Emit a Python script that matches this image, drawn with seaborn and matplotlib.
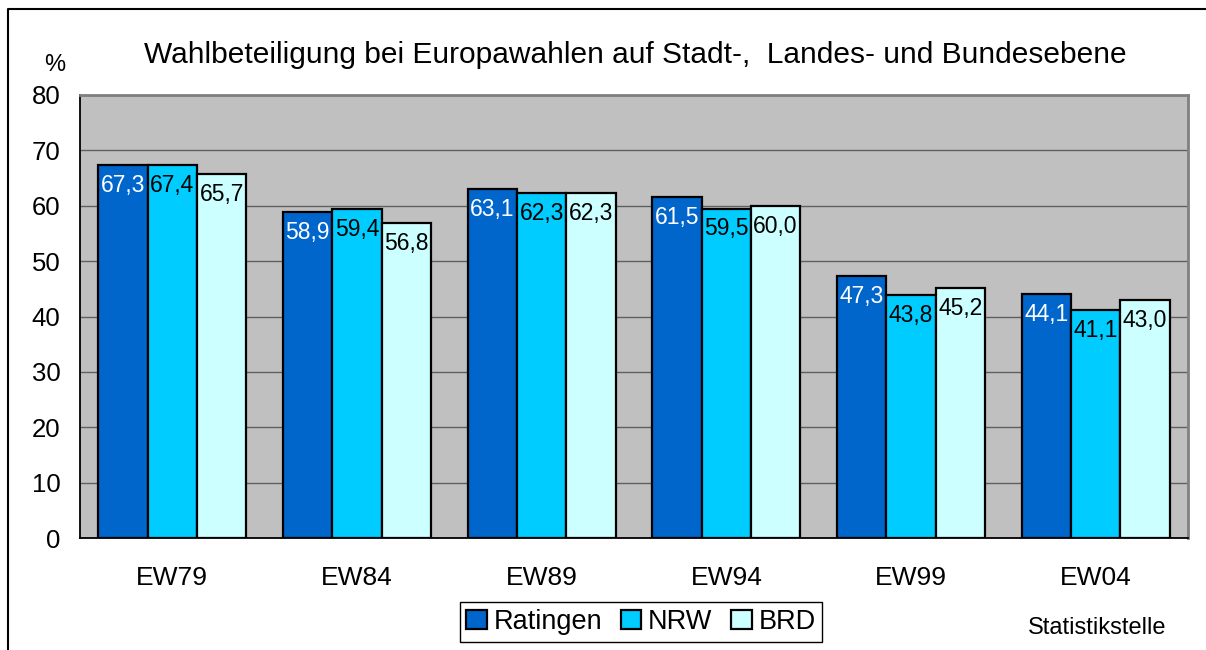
import pandas
import seaborn
import matplotlib
matplotlib.use('Agg')
import matplotlib.pyplot as plt
from matplotlib.lines import Line2D

# Data
elections = ['EW79', 'EW84', 'EW89', 'EW94', 'EW99', 'EW04']
regions = ['Ratingen', 'NRW', 'BRD']
ratingen = [67.3, 58.9, 63.1, 61.5, 47.3, 44.1]
nrw = [67.4, 59.4, 62.3, 59.5, 43.8, 41.1]
brd = [65.7, 56.8, 62.3, 60.0, 45.2, 43.0]
colors = ['#0066CC', '#00CCFF', '#CCFFFF']
label_colors = ['white', 'black', 'black']

data = pandas.DataFrame({
    'wahl': elections * 3,
    'gebiet': [r for r in regions for _ in elections],
    'wert': ratingen + nrw + brd,
})

seaborn.set_style('white')
plt.rcParams['font.family'] = ['Liberation Sans', 'DejaVu Sans']
plt.rcParams['text.color'] = 'black'
plt.rcParams['xtick.color'] = 'black'
plt.rcParams['ytick.color'] = 'black'
plt.rcParams['axes.labelcolor'] = 'black'

fig = plt.figure(figsize=(12.06, 6.5), dpi=100)
ax = fig.add_axes([80 / 1206, 1 - 538 / 650, (1188 - 80) / 1206, (538 - 95) / 650])

seaborn.barplot(data=data, x='wahl', y='wert', hue='gebiet', order=elections,
                hue_order=regions, palette=colors, edgecolor='black',
                linewidth=1.6, width=0.8, saturation=1, ax=ax, zorder=3)

ax.set_facecolor('#C0C0C0')
ax.set_ylim(0, 80)
ax.set_xlim(-0.5, len(elections) - 0.5)
ax.set_yticks(range(0, 81, 10))
ax.yaxis.grid(True, color='#606060', linewidth=1.0, zorder=0)
ax.set_axisbelow(True)

ax.tick_params(axis='y', direction='out', length=7, width=1.2, labelsize=18.5, pad=7,
               colors='black')
ax.tick_params(axis='x', which='major', length=0, labelsize=19, pad=20, colors='black')
ax.set_xticks([i - 0.5 for i in range(len(elections) + 1)], minor=True)
ax.tick_params(axis='x', which='minor', direction='out', length=7, width=1.2, colors='black')

for side in ['left', 'bottom']:
    ax.spines[side].set_color('black')
    ax.spines[side].set_linewidth(1.3)
for side in ['top', 'right']:
    ax.spines[side].set_color('#808080')
    ax.spines[side].set_linewidth(2)

ax.set_xlabel('')
ax.set_ylabel('')

for container, col in zip(ax.containers, label_colors):
    labels = [f'{b.get_height():.1f}'.replace('.', ',') for b in container]
    ax.bar_label(container, labels=labels, padding=-23, color=col, fontsize=16.5)

ax.legend_.remove()
handles = [plt.Rectangle((0, 0), 1, 1, facecolor=c, edgecolor='black', linewidth=1.6) for c in colors]
fig.legend(handles, regions, loc='center', bbox_to_anchor=(641 / 1206, 1 - 622 / 650),
           ncol=3, frameon=True, fancybox=False, edgecolor='black', fontsize=19.5,
           handlelength=0.75, handleheight=0.75, handletextpad=0.25, columnspacing=0.7,
           borderpad=0.25, borderaxespad=0, framealpha=1, labelcolor='black')

fig.text(635 / 1206, 1 - 55 / 650,
         'Wahlbeteiligung bei Europawahlen auf Stadt-,  Landes- und Bundesebene',
         ha='center', va='center', fontsize=21.5, color='black')
fig.text(55 / 1206, 1 - 65 / 650, '%', ha='center', va='center', fontsize=17, color='black')
fig.text(1097 / 1206, 1 - 628 / 650, 'Statistikstelle', ha='center', va='center',
         fontsize=17, color='black')

# outer chart frame (left and top edges visible)
fig.add_artist(Line2D([8 / 1206, 8 / 1206, 1], [0, 1 - 9 / 650, 1 - 9 / 650],
                      transform=fig.transFigure, color='black', linewidth=1.5))

fig.savefig('out.png', dpi=100)
